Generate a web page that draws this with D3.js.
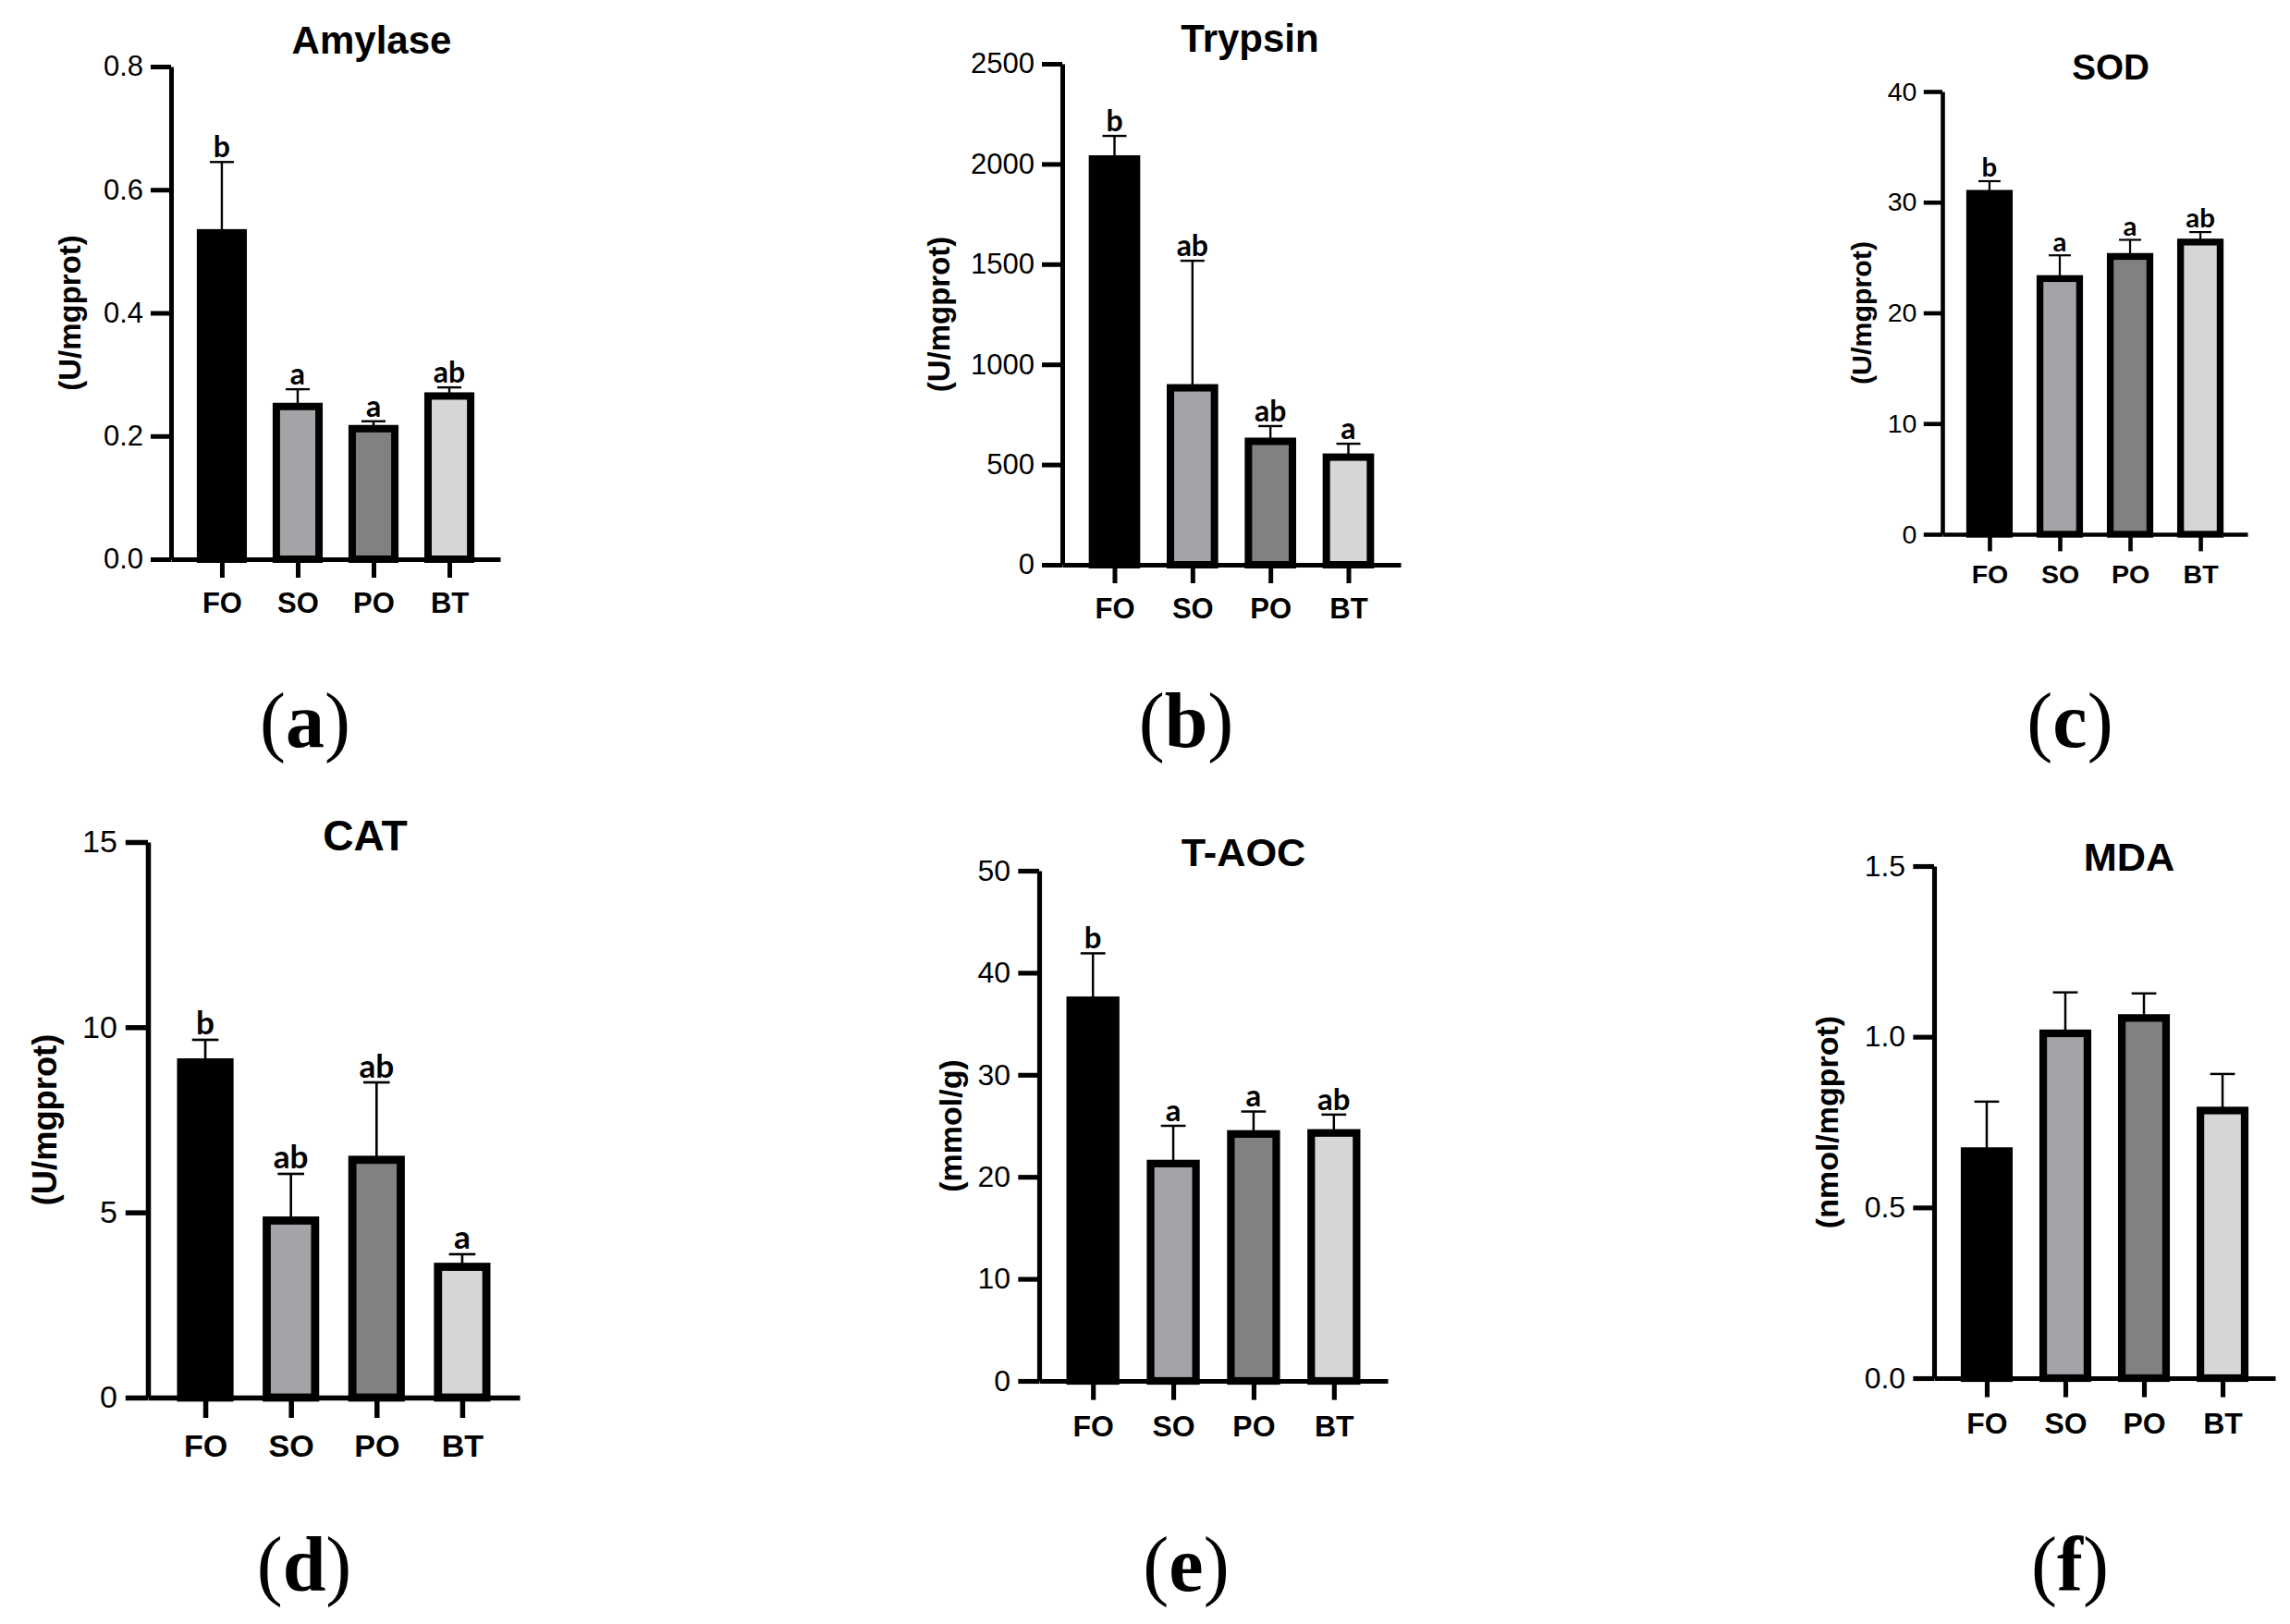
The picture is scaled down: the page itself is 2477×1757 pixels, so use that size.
<!DOCTYPE html>
<html>
<head>
<meta charset="utf-8">
<script src="https://cdn.jsdelivr.net/npm/d3@7"></script>
<style>
  html, body { margin: 0; padding: 0; background: #fff; }
  svg { display: block; }
  .tick text { fill: #000; }
</style>
</head>
<body>
<svg id="fig" width="2477" height="1757"></svg>
<script>
// groups shared by every panel
var groups = ['FO', 'SO', 'PO', 'BT'];

// (a) Amylase
var amylaseMean = [0.530, 0.248, 0.212, 0.265];
var amylaseErr = [0.115, 0.028, 0.012, 0.014];
var amylaseSig = ['b', 'a', 'a', 'ab'];
var amylaseTicks = [0, 0.2, 0.4, 0.6, 0.8];

// (b) Trypsin
var trypsinMean = [2025, 883, 616, 537];
var trypsinErr = [115, 634, 76, 67];
var trypsinSig = ['b', 'ab', 'ab', 'a'];
var trypsinTicks = [0, 500, 1000, 1500, 2000, 2500];

// (c) SOD
var sodMean = [30.8, 23.1, 25.1, 26.4];
var sodErr = [1.1, 2.1, 1.5, 0.9];
var sodSig = ['b', 'a', 'a', 'ab'];
var sodTicks = [0, 10, 20, 30, 40];

// (d) CAT
var catMean = [9.05, 4.78, 6.42, 3.53];
var catErr = [0.61, 1.26, 2.09, 0.34];
var catSig = ['b', 'ab', 'ab', 'a'];
var catTicks = [0, 5, 10, 15];

// (e) T-AOC
var taocMean = [37.3, 21.3, 24.2, 24.3];
var taocErr = [4.6, 3.7, 2.2, 1.8];
var taocSig = ['b', 'a', 'a', 'ab'];
var taocTicks = [0, 10, 20, 30, 40, 50];

// (f) MDA, no letters
var mdaMean = [0.665, 1.010, 1.055, 0.784];
var mdaErr = [0.145, 0.120, 0.072, 0.107];
var mdaTicks = [0, 0.5, 1.0, 1.5];

var fills = {FO: '#000000', SO: '#a4a3a8', PO: '#818181', BT: '#d6d6d6'};
var sans = '"Liberation Sans", Arial, sans-serif';

var panels = [
  {title: 'Amylase', unit: '(U/mgprot)', mean: amylaseMean, err: amylaseErr, sig: amylaseSig,
   ticks: amylaseTicks, fmt: d3.format('.1f'), tag: 'a',
   axisX: 185, xEnd: 541, y0: 605, yTop: 72, k: 1, titleX: 402, titleY: 58, unitX: 75, tagX: 330, tagY: 808},
  {title: 'Trypsin', unit: '(U/mgprot)', mean: trypsinMean, err: trypsinErr, sig: trypsinSig,
   ticks: trypsinTicks, fmt: d3.format('d'), tag: 'b',
   axisX: 1149, xEnd: 1515, y0: 611, yTop: 69, k: 1, titleX: 1352, titleY: 56, unitX: 1015, tagX: 1283, tagY: 808},
  {title: 'SOD', unit: '(U/mgprot)', mean: sodMean, err: sodErr, sig: sodSig,
   ticks: sodTicks, fmt: d3.format('d'), tag: 'c',
   axisX: 2101, xEnd: 2431, y0: 578, yTop: 99, k: 0.92, titleX: 2283, titleY: 86, unitX: 2013, tagX: 2239, tagY: 808},
  {title: 'CAT', unit: '(U/mgprot)', mean: catMean, err: catErr, sig: catSig,
   ticks: catTicks, fmt: d3.format('d'), tag: 'd',
   axisX: 160, xEnd: 562, y0: 1512, yTop: 911, k: 1.1, titleX: 395, titleY: 920, unitX: 48, tagX: 329, tagY: 1721},
  {title: 'T-AOC', unit: '(mmol/g)', mean: taocMean, err: taocErr, sig: taocSig,
   ticks: taocTicks, fmt: d3.format('d'), tag: 'e',
   axisX: 1124, xEnd: 1501, y0: 1494, yTop: 942, k: 1.03, titleX: 1345, titleY: 937, unitX: 1028, tagX: 1283, tagY: 1721},
  {title: 'MDA', unit: '(nmol/mgprot)', mean: mdaMean, err: mdaErr, sig: null,
   ticks: mdaTicks, fmt: d3.format('.1f'), tag: 'f',
   axisX: 2092, xEnd: 2461, y0: 1491, yTop: 937, k: 1.03, titleX: 2303, titleY: 942, unitX: 1976, tagX: 2239, tagY: 1721}
];

var svg = d3.select('#fig');

function drawPanel(p) {
  var s = p.k;
  var g = svg.append('g').attr('class', 'panel');

  var y = d3.scaleLinear()
    .domain([0, d3.max(p.ticks)])
    .range([p.y0, p.yTop]);

  var x = d3.scalePoint()
    .domain(groups)
    .range([p.axisX, p.xEnd])
    .padding(0.67);

  var sw = 8 * s,
  barW = x.step() * 0.66;

  var rows = groups.map(function(d, i) {
    return {g: d, v: p.mean[i], e: p.err[i], sig: p.sig ? p.sig[i] : ''};
  });

  // error bars (upper only), drawn under the bars
  var eb = g.selectAll('.err').data(rows).join('g').attr('class', 'err');
  eb.append('line')
    .attr('x1', function(d) { return x(d.g); })
    .attr('x2', function(d) { return x(d.g); })
    .attr('y1', function(d) { return y(d.v); })
    .attr('y2', function(d) { return y(d.v + d.e); })
    .attr('stroke', '#000')
    .attr('stroke-width', 2.4 * s);
  eb.append('line')
    .attr('x1', function(d) { return x(d.g) - 13 * s; })
    .attr('x2', function(d) { return x(d.g) + 13 * s; })
    .attr('y1', function(d) { return y(d.v + d.e); })
    .attr('y2', function(d) { return y(d.v + d.e); })
    .attr('stroke', '#000')
    .attr('stroke-width', 2.4 * s);

  g.selectAll('.bar').data(rows).join('rect')
    .attr('class', 'bar')
    .attr('x', function(d) { return x(d.g) - barW / 2 + sw / 2; })
    .attr('width', barW - sw)
    .attr('y', function(d) { return y(d.v); })
    .attr('height', function(d) { return y(0) - y(d.v); })
    .attr('fill', function(d) { return fills[d.g]; })
    .attr('stroke', '#000')
    .attr('stroke-width', sw);

  if (p.sig) {
    g.selectAll('.sig').data(rows).join('text')
      .attr('class', 'sig')
      .attr('x', function(d) { return x(d.g); })
      .attr('y', function(d) { return y(d.v + d.e) - 5 * s; })
      .attr('text-anchor', 'middle')
      .style('font-family', 'Lato, "Open Sans", sans-serif')
      .style('font-weight', 'bold')
      .style('font-size', (32 * s) + 'px')
      .text(function(d) { return d.sig; });
  }

  // y axis
  var ya = g.append('g')
    .attr('transform', 'translate(' + p.axisX + ',0)')
    .call(d3.axisLeft(y).tickValues(p.ticks).tickFormat(p.fmt)
      .tickSize(22 * s).tickSizeOuter(0).tickPadding(8 * s));
  ya.selectAll('path.domain').attr('stroke-width', 5 * s);
  ya.selectAll('.tick line').attr('stroke-width', 5 * s);
  ya.selectAll('.tick text')
    .style('font-family', sans)
    .style('font-size', (31 * s) + 'px');

  // x axis
  var xa = g.append('g')
    .attr('transform', 'translate(0,' + p.y0 + ')')
    .call(d3.axisBottom(x).tickSize(20 * s).tickSizeOuter(0).tickPadding(16 * s));
  xa.selectAll('path.domain').attr('stroke-width', 5 * s);
  xa.selectAll('.tick line').attr('stroke-width', 5 * s);
  xa.selectAll('.tick text')
    .style('font-family', sans)
    .style('font-weight', 'bold')
    .style('font-size', (31 * s) + 'px');

  g.append('text')
    .attr('x', p.titleX)
    .attr('y', p.titleY)
    .attr('text-anchor', 'middle')
    .style('font-family', sans)
    .style('font-weight', 'bold')
    .style('font-size', (42 * s) + 'px')
    .text(p.title);

  g.append('text')
    .attr('transform', 'translate(' + p.unitX + ',' + ((p.y0 + p.yTop) / 2) + ') rotate(-90)')
    .attr('text-anchor', 'middle')
    .attr('dominant-baseline', 'central')
    .style('font-family', sans)
    .style('font-weight', 'bold')
    .style('font-size', (33 * s) + 'px')
    .text(p.unit);

  var tag = g.append('text')
    .attr('x', p.tagX)
    .attr('y', p.tagY)
    .attr('text-anchor', 'middle')
    .style('font-family', '"Liberation Serif", "Times New Roman", serif')
    .style('font-size', '84px');
  tag.append('tspan').text('(');
  tag.append('tspan').style('font-weight', 'bold').text(p.tag);
  tag.append('tspan').text(')');
}

panels.forEach(drawPanel);
</script>
</body>
</html>
